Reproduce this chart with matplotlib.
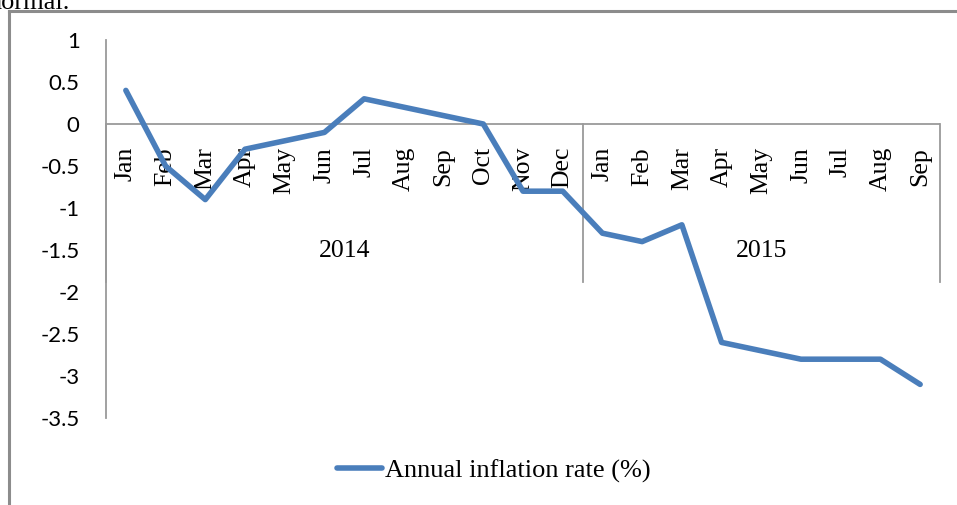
import matplotlib
matplotlib.use("Agg")
import matplotlib.pyplot as plt
from matplotlib.lines import Line2D

# ---- data ----
months_2014 = ["Jan", "Feb", "Mar", "Apr", "May", "Jun", "Jul", "Aug", "Sep", "Oct", "Nov", "Dec"]
months_2015 = ["Jan", "Feb", "Mar", "Apr", "May", "Jun", "Jul", "Aug", "Sep"]
years = ["2014", "2015"]
inflation_2014 = [0.4, -0.5, -0.9, -0.3, -0.2, -0.1, 0.3, 0.2, 0.1, 0.0, -0.8, -0.8]
inflation_2015 = [-1.3, -1.4, -1.2, -2.6, -2.7, -2.8, -2.8, -2.8, -3.1]
y_ticks = [1, 0.5, 0, -0.5, -1, -1.5, -2, -2.5, -3, -3.5]
y_tick_labels = ["1", "0.5", "0", "-0.5", "-1", "-1.5", "-2", "-2.5", "-3", "-3.5"]
series_label = "Annual inflation rate (%)"

months = months_2014 + months_2015
values = inflation_2014 + inflation_2015
x = list(range(len(months)))

W, H = 957, 505
DPI = 100
fig = plt.figure(figsize=(W / DPI, H / DPI), dpi=DPI)
fig.patch.set_facecolor("white")

def fx(px):
    return px / W

def fy(py):
    return 1 - py / H

GRAY = "#9a9a9a"
BLUE = "#4a7ebb"
SERIF = ["Liberation Serif", "DejaVu Serif"]
SANS = ["Lato", "DejaVu Sans"]

# outer frame (cropped at right and bottom)
fig.add_artist(Line2D([fx(9), fx(W + 5)], [fy(11), fy(11)], color="#8c8c8c", lw=2.2))
fig.add_artist(Line2D([fx(9), fx(9)], [fy(11), fy(H + 5)], color="#8c8c8c", lw=2.2))

# text from the surrounding page, cut off at the top-left as in the reference
fig.text(fx(70), fy(9), "normal.", ha="right", va="baseline", fontsize=19,
         family=SERIF, color="black")

ax = fig.add_axes([fx(106), fy(418), fx(940) - fx(106), fy(40) - fy(418)])
ax.set_xlim(-0.5, len(months) - 0.5)
ax.set_ylim(-3.5, 1)
for s in ["top", "right", "bottom"]:
    ax.spines[s].set_visible(False)
ax.spines["left"].set_color(GRAY)
ax.spines["left"].set_linewidth(1.3)

ax.set_xticks([])
ax.set_yticks(y_ticks)
ax.set_yticklabels(y_tick_labels, family=SANS, fontsize=16)
ax.tick_params(axis="y", length=0, pad=19)

# zero axis line
ax.axhline(0, color=GRAY, lw=1.3, zorder=1)

# category group separators
sep_bottom = -1.88
n14 = len(months_2014)
for sx in [-0.5, n14 - 0.5, len(months) - 0.5]:
    ax.plot([sx, sx], [0, sep_bottom], color=GRAY, lw=1.3, zorder=1, clip_on=False)

# month labels
for xi, m in zip(x, months):
    ax.annotate(m, xy=(xi, 0), xytext=(0, -16.5), textcoords="offset points",
                rotation=90, ha="center", va="top", fontsize=18.5,
                family=SERIF, color="black", annotation_clip=False)

# year labels
centers = [(n14 - 1) / 2, n14 + (len(months_2015) - 1) / 2]
for c, yl in zip(centers, years):
    ax.annotate(yl, xy=(c, 0), xytext=(0, -91.5), textcoords="offset points",
                ha="center", va="center", fontsize=18.5, family=SERIF,
                color="black", annotation_clip=False)

line, = ax.plot(x, values, color=BLUE, lw=4, solid_joinstyle="round",
                solid_capstyle="round", label=series_label, zorder=3, clip_on=False)

leg = ax.legend(handles=[line], loc="center", bbox_to_anchor=(fx(494), fy(471)),
                bbox_transform=fig.transFigure, frameon=False,
                prop={"family": SERIF, "size": 19}, handlelength=1.7,
                handletextpad=0.1, borderpad=0, borderaxespad=0)

fig.savefig("out.png", dpi=DPI, facecolor="white")
